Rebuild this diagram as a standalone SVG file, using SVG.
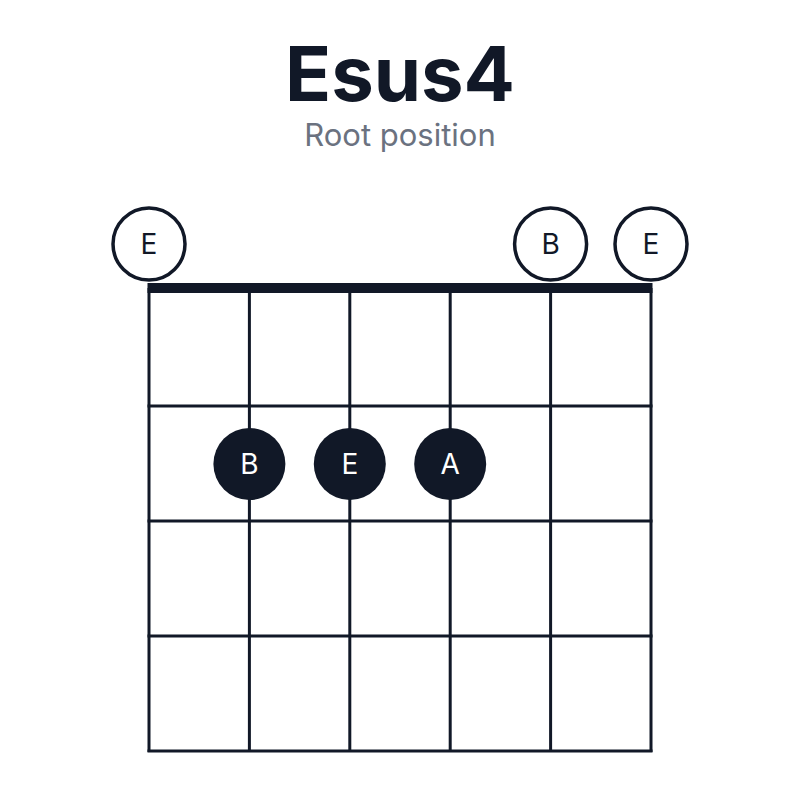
<svg xmlns="http://www.w3.org/2000/svg" width="800" height="800" viewBox="0 0 800 800">
<style>
.t{font-family:"Inter","Liberation Sans",sans-serif;text-anchor:middle}
.line{stroke:#111827;stroke-width:3}
.open{fill:#fff;stroke:#111827;stroke-width:3.5}
.ol{font-family:"Inter","Liberation Sans",sans-serif;font-size:28px;fill:#111827;text-anchor:middle;dominant-baseline:central}
.fl{font-family:"Inter","Liberation Sans",sans-serif;font-size:28px;fill:#fff;text-anchor:middle;dominant-baseline:central}
</style>
<rect width="800" height="800" fill="#fff"/>
<text class="t" x="400" y="101" font-size="76" font-weight="bold" fill="#111827">Esus4</text>
<text class="t" x="400" y="146" font-size="31" fill="#6b7280">Root position</text>
<g id="grid">
<line class="line" x1="149" y1="288" x2="149" y2="752"/>
<line class="line" x1="249.4" y1="288" x2="249.4" y2="752"/>
<line class="line" x1="349.8" y1="288" x2="349.8" y2="752"/>
<line class="line" x1="450.2" y1="288" x2="450.2" y2="752"/>
<line class="line" x1="550.6" y1="288" x2="550.6" y2="752"/>
<line class="line" x1="651" y1="288" x2="651" y2="752"/>
<line class="line" x1="147.5" y1="406" x2="652.5" y2="406"/>
<line class="line" x1="147.5" y1="521" x2="652.5" y2="521"/>
<line class="line" x1="147.5" y1="636" x2="652.5" y2="636"/>
<line class="line" x1="147.5" y1="751" x2="652.5" y2="751"/>
<rect x="147.5" y="283" width="505" height="10" fill="#111827"/>
</g>
<g id="open1"><circle class="open" cx="149" cy="244" r="36"/><text class="ol" x="149" y="244">E</text></g>
<g id="open5"><circle class="open" cx="550.6" cy="244" r="36"/><text class="ol" x="550.6" y="244">B</text></g>
<g id="open6"><circle class="open" cx="651" cy="244" r="36"/><text class="ol" x="651" y="244">E</text></g>
<g id="f2"><circle cx="249.4" cy="464" r="36" fill="#111827"/><text class="fl" x="249.4" y="464">B</text></g>
<g id="f3"><circle cx="349.8" cy="464" r="36" fill="#111827"/><text class="fl" x="349.8" y="464">E</text></g>
<g id="f4"><circle cx="450.2" cy="464" r="36" fill="#111827"/><text class="fl" x="450.2" y="464">A</text></g>
</svg>
